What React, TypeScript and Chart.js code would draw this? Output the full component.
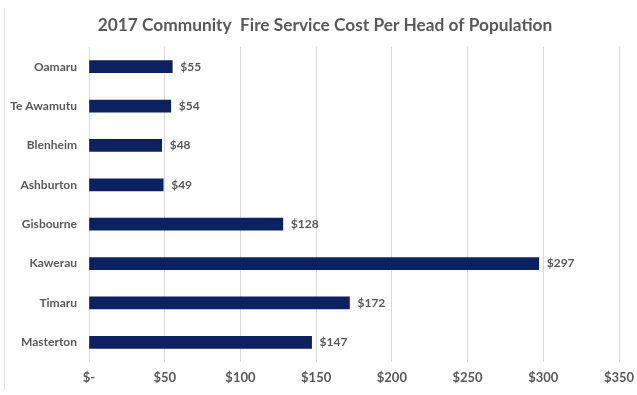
import React, { useEffect, useRef } from "react";
import { Chart, registerables } from "chart.js";

Chart.register(...registerables);

const categories = ["Oamaru", "Te Awamutu", "Blenheim", "Ashburton", "Gisbourne", "Kawerau", "Timaru", "Masterton"];
const costPerHead = [55, 54, 48, 49, 128, 297, 172, 147];
const xTickLabels = ["$-", "$50", "$100", "$150", "$200", "$250", "$300", "$350"];
const titleText = "2017 Community  Fire Service Cost Per Head of Population";

const FONT = "Lato, 'Open Sans', sans-serif";
const TEXT = "#595959";

const valueLabels = {
  id: "valueLabels",
  afterDatasetsDraw(chart: any) {
    const ctx = chart.ctx;
    const meta = chart.getDatasetMeta(0);
    ctx.save();
    ctx.font = `bold 12px ${FONT}`;
    ctx.fillStyle = TEXT;
    ctx.textAlign = "left";
    ctx.textBaseline = "middle";
    meta.data.forEach((bar: any, i: number) => {
      ctx.fillText("$" + costPerHead[i], bar.x + 8, bar.y);
    });
    ctx.restore();
  },
};

const titleDraw = {
  id: "titleDraw",
  afterDraw(chart: any) {
    const ctx = chart.ctx;
    ctx.save();
    ctx.font = `bold 17.3px ${FONT}`;
    ctx.fillStyle = TEXT;
    ctx.textAlign = "center";
    ctx.textBaseline = "middle";
    ctx.fillText(titleText, 325, 25);
    ctx.restore();
  },
};

export default function App() {
  const ref = useRef<HTMLCanvasElement | null>(null);
  useEffect(() => {
    if (!ref.current) return;
    const chart = new Chart(ref.current, {
      type: "bar",
      data: {
        labels: categories,
        datasets: [
          {
            data: costPerHead,
            backgroundColor: "#0B2160",
            borderWidth: 0,
            barThickness: 12,
          },
        ],
      },
      options: {
        indexAxis: "y",
        animation: false,
        responsive: true,
        maintainAspectRatio: false,
        layout: { padding: { left: 0, right: 18, top: 47, bottom: 0 } },
        plugins: {
          legend: { display: false },
          tooltip: { enabled: false },
          title: { display: false },
        },
        scales: {
          x: {
            min: 0,
            max: 350,
            ticks: {
              stepSize: 50,
              color: TEXT,
              font: { family: FONT, size: 13, weight: "bold" },
              padding: 8,
              callback: (_v: any, i: number) => xTickLabels[i],
            },
            grid: { color: "#d9d9d9", drawTicks: false },
            border: { display: false },
            afterFit: (scale: any) => {
              scale.paddingRight = 0;
              scale.paddingLeft = 0;
              scale.height = 33;
            },
          },
          y: {
            ticks: {
              color: TEXT,
              font: { family: FONT, size: 12, weight: "bold" },
              padding: 12,
            },
            grid: { display: false, drawTicks: false },
            border: { display: false },
            afterFit: (scale: any) => {
              scale.width = 89;
            },
          },
        },
      },
      plugins: [valueLabels, titleDraw],
    });
    return () => chart.destroy();
  }, []);
  return (
    <div style={{ position: "fixed", left: 0, top: 0, width: 637, height: 395, background: "#fff" }}>
      <div style={{ position: "absolute", left: 4, top: 8, width: 1, height: 382, background: "#e3e3e3" }} />
      <canvas ref={ref} />
    </div>
  );
}
